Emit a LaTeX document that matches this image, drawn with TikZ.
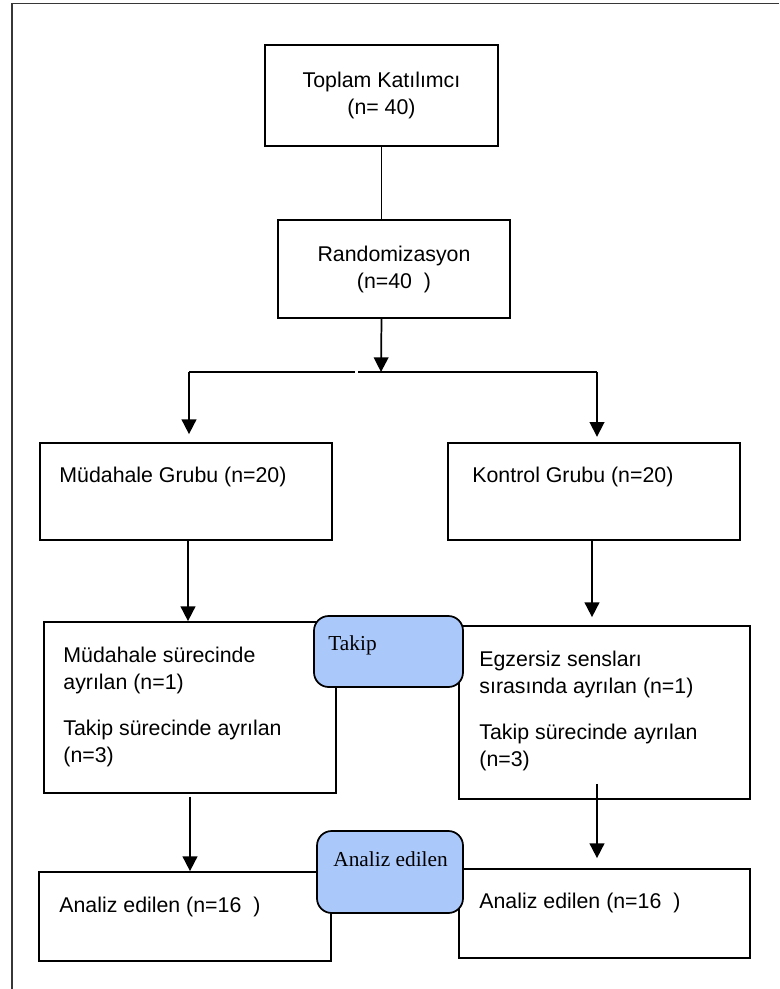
\documentclass[tikz,border=0pt]{standalone}
\usepackage{fontspec}
\setmainfont{Liberation Sans}
\newfontfamily\timesfont{Liberation Serif}
\usepackage{xcolor}
\definecolor{paleblue}{RGB}{170,200,250}
\definecolor{frameline}{RGB}{55,55,55}
\usepackage{tikz}
\usetikzlibrary{arrows.meta,positioning,calc}
\tikzset{
  sz/.style 2 args={minimum width=#1*0.75pt, minimum height=#2*0.75pt},
  box/.style={draw=black, line width=1.3pt, fill=white, inner sep=0pt},
  tag/.style={draw=black, line width=1.3pt, fill=paleblue,
              rounded corners=11pt, inner sep=0pt},
  txt/.style={inner sep=0pt, anchor=north west, align=left,
              font=\fontsize{16}{20.25}\selectfont},
  tagtxt/.style={inner sep=0pt, anchor=base west,
                 font=\timesfont\fontsize{16}{19}\selectfont},
  link/.style={line width=1.3pt},
  arr/.style={link, -{Triangle[length=11pt,width=11pt]}},
}

\begin{document}
\begin{tikzpicture}[x=0.75pt,y=-0.75pt]
  \useasboundingbox (0,0) rectangle (779,989);
  %% page frame (only top and left edges visible)
  \draw[line width=1.2pt, frameline] (779,3.5) -- (12,3.5) -- (12,989);

  %% main boxes
  \node[box, sz={233}{101}, align=center, font=\fontsize{16}{20.25}\selectfont]
    (total) at (381.5,95.5) {Toplam Katılımcı\\(n= 40)};
  \node[box, sz={232}{98}, align=center, font=\fontsize{16}{20.25}\selectfont]
    (rand) at (394,269) {Randomizasyon\\(n=40\ \ )};
  \node[box, sz={292}{97}]  (mgrp)  at (186,491.5) {};
  \node[box, sz={292}{97}]  (kgrp)  at (594,491.5) {};
  \node[box, sz={292}{171}] (mdrop) at (190,707.5) {};
  \node[box, sz={291}{173}] (kdrop) at (604.5,712.5) {};
  \node[box, sz={292}{89}]  (mana)  at (185,916.5) {};
  \node[box, sz={291}{89}]  (kana)  at (604.5,913.5) {};

  %% box texts
  \node[txt] (mgrp-t)  at ([shift={(20,25)}]mgrp.north west) {Müdahale Grubu (n=20)};
  \node[txt] (kgrp-t)  at ([shift={(25,25)}]kgrp.north west) {Kontrol Grubu (n=20)};
  \node[txt] (mdrop-t) at ([shift={(20,25.5)}]mdrop.north west)
    {Müdahale sürecinde\\ayrılan (n=1)\\[14pt]Takip sürecinde ayrılan\\(n=3)};
  \node[txt] (kdrop-t) at ([shift={(21,25.5)}]kdrop.north west)
    {Egzersiz sensları\\sırasında ayrılan (n=1)\\[14pt]Takip sürecinde ayrılan\\(n=3)};
  \node[txt] (mana-t)  at ([shift={(21,25.5)}]mana.north west) {Analiz edilen (n=16\ \ )};
  \node[txt] (kana-t)  at ([shift={(21,24.5)}]kana.north west) {Analiz edilen (n=16\ \ )};

  %% connectors
  \coordinate (split) at (381,372);
  \coordinate (sl) at (189,372);
  \coordinate (sr) at (597,372);
  \coordinate (gapl) at (354.5,372);
  \coordinate (gapr) at (358,372);
  \draw[link] (total.south) -- (total.south |- rand.north);
  \draw[arr] (total.south |- rand.south) -- (split);
  \draw[link] (sl) -- (gapl);
  \draw[link] (gapr) -- (sr);
  \draw[arr, shorten >=6pt] (sl) -- (sl |- mgrp.north);
  \draw[arr, shorten >=4pt] (sr) -- (sr |- kgrp.north);
  \draw[arr] ([xshift=1.5pt]mgrp.south) -- ([xshift=1.5pt]mgrp.south |- mdrop.north);
  \draw[arr, shorten >=6pt] ([xshift=-1.5pt]kgrp.south) -- ([xshift=-1.5pt]kgrp.south |- kdrop.north);
  \draw[arr, shorten <=2pt] (mdrop.south) -- (mdrop.south |- mana.north);
  \draw[arr, shorten <=-12pt, shorten >=7.5pt] (kdrop.south -| sr) -- (kana.north -| sr);

  %% blue tags
  \node[tag, sz={149}{71}] (takip) at (388.5,651.5) {};
  \node[tagtxt] (takip-t) at ([shift={(15,35)}]takip.north west) {Takip};
  \node[tag, sz={146}{82}] (analiz) at (390,872) {};
  \node[tagtxt] (analiz-t) at ([shift={(17,36)}]analiz.north west) {Analiz edilen};
\end{tikzpicture}
\end{document}
